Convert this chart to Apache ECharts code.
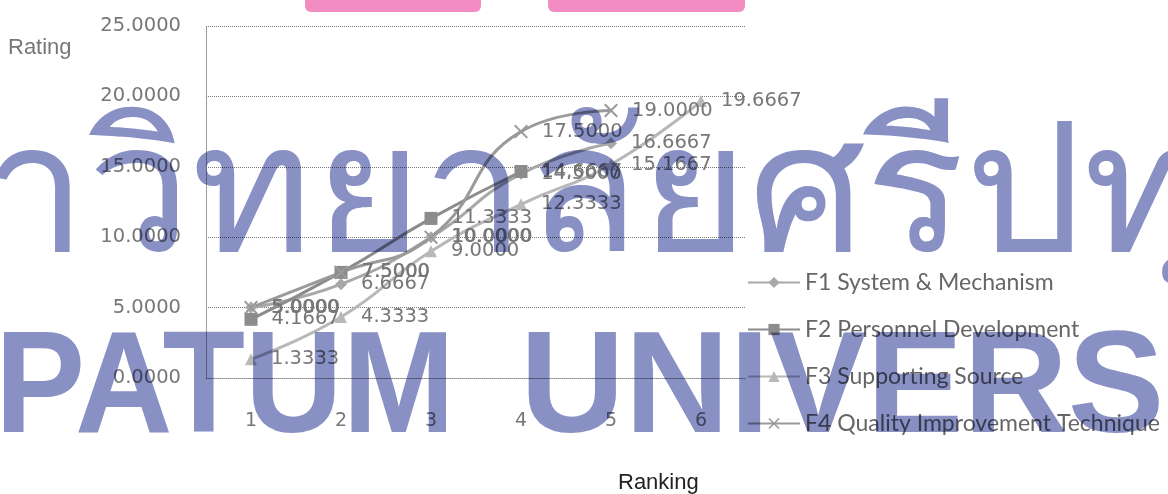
<!DOCTYPE html>
<html lang="en">
<head>
    <meta charset="UTF-8">
    <title>Rating by Ranking</title>
    <style>
        html, body {
            margin: 0;
            height: 100%;
            background: #fff;
        }
        #wrap {
            position: relative;
            width: 1168px;
            height: 494px;
        }
        #main {
            width: 1168px;
            height: 494px;
        }
        #wm {
            position: absolute;
            left: 0;
            top: 0;
            pointer-events: none;
            mix-blend-mode: multiply;
        }
    </style>
    <script src="https://cdn.jsdelivr.net/npm/echarts@6/dist/echarts.min.js"></script>
</head>
<body>
    <div id="wrap">
        <div id="main"></div>
        <!-- watermark laid over the chart -->
        <svg id="wm" width="1168" height="494">
            <rect x="305" y="-10" width="176" height="22" rx="6" fill="#f48cc4"/>
            <rect x="548" y="-10" width="197" height="22" rx="6" fill="#f48cc4"/>
            <text x="-262" y="251" font-family="sans-serif" font-size="180" fill="#8890c4"
                  textLength="1590" lengthAdjust="spacingAndGlyphs">มหาวิทยาลัยศรีปทุม</text>
            <text x="-5" y="432" font-family="Liberation Sans" font-weight="bold" font-size="145" fill="#8890c4"
                  textLength="460" lengthAdjust="spacingAndGlyphs">PATUM</text>
            <text x="520" y="432" font-family="Liberation Sans" font-weight="bold" font-size="145" fill="#8890c4">UNIVERSITY</text>
        </svg>
    </div>
    <script>
        const chart = echarts.init(document.getElementById('main'))

        const rankings = ['1', '2', '3', '4', '5', '6']
        const seriesNames = [
            'F1 System & Mechanism',
            'F2 Personnel Development',
            'F3 Supporting Source',
            'F4 Quality Improvement Technique'
        ]
        const f1 = [5.0000, 6.6667, 10.0000, 14.5000, 16.6667]
        const f2 = [4.1667, 7.5000, 11.3333, 14.6667]
        const f3 = [1.3333, 4.3333, 9.0000, 12.3333, 15.1667, 19.6667]
        const f4 = [5.0000, 7.5000, 10.0000, 17.5000, 19.0000]

        const xMark = 'path://M1,0 L5,4 L9,0 L10,1 L6,5 L10,9 L9,10 L5,6 L1,10 L0,9 L4,5 L0,1 Z'
        const looks = [
            { data: f1, color: '#a8a8a8', symbol: 'diamond', size: 12 },
            { data: f2, color: '#8c8c8c', symbol: 'rect', size: 13 },
            { data: f3, color: '#b8b8b8', symbol: 'triangle', size: 12 },
            { data: f4, color: '#9a9a9a', symbol: xMark, size: 14 }
        ]

        const labelFont = 'DejaVu Sans'

        const series = looks.map((s, i) => ({
            name: seriesNames[i],
            type: 'line',
            smooth: true,
            data: s.data,
            symbol: s.symbol,
            symbolSize: s.size,
            lineStyle: { color: s.color, width: 3 },
            itemStyle: { color: s.color },
            label: {
                show: true,
                position: 'right',
                distance: 14,
                color: '#777',
                fontFamily: labelFont,
                fontSize: 19.5,
                formatter: p => p.value.toFixed(4)
            },
            emphasis: { disabled: true }
        }))

        const options = {
            animation: false,
            backgroundColor: '#fff',
            grid: {
                left: 206,
                top: 26,
                width: 540,
                height: 352
            },
            legend: {
                orient: 'vertical',
                left: 742,
                top: 266,
                itemWidth: 52,
                itemHeight: 14,
                itemGap: 24,
                data: seriesNames,
                textStyle: {
                    color: '#666',
                    fontFamily: 'Lato',
                    fontSize: 23
                }
            },
            xAxis: {
                type: 'category',
                data: rankings,
                boundaryGap: true,
                axisLine: { lineStyle: { color: '#888', type: 'dotted' } },
                axisTick: { show: false },
                axisLabel: {
                    margin: 34,
                    color: '#777',
                    fontFamily: labelFont,
                    fontSize: 19
                }
            },
            yAxis: {
                type: 'value',
                min: 0,
                max: 25,
                interval: 5,
                axisLine: { show: true, lineStyle: { color: '#888', type: 'dotted' } },
                axisTick: { show: false },
                splitLine: { lineStyle: { color: '#777', type: 'dotted' } },
                axisLabel: {
                    margin: 25,
                    color: '#777',
                    fontFamily: labelFont,
                    fontSize: 19.5,
                    formatter: v => v.toFixed(4)
                }
            },
            graphic: [
                {
                    type: 'text',
                    left: 8,
                    top: 37,
                    style: { text: 'Rating', fill: '#777', font: '22px "Liberation Sans"' }
                },
                {
                    type: 'text',
                    left: 618,
                    top: 472,
                    style: { text: 'Ranking', fill: '#222', font: '22px "Liberation Sans"' }
                }
            ],
            series
        }

        chart.setOption(options)
    </script>
</body>
</html>
